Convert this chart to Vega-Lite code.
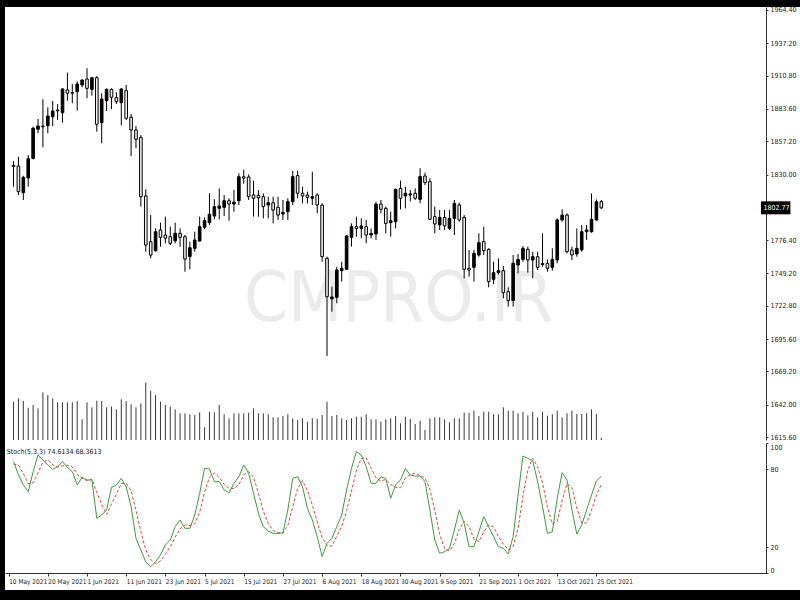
{
"$schema": "https://vega.github.io/schema/vega-lite/v6.json",
"width": 795, "height": 583,
"autosize": {"type": "none"},
"padding": {"left": 5, "top": 7, "right": 0, "bottom": 10},
"background": "#000000",
"config": {
  "view": {"fill": "#ffffff", "stroke": null},
  "font": "DejaVu Sans Condensed",
  "axis": {"grid": false, "labelFont": "DejaVu Sans Condensed", "labelFontSize": 7, "labelColor": "#1a1a1a", "domainColor": "#333333", "tickColor": "#333333", "tickSize": 3, "labelPadding": 2, "title": null}
},
"datasets": {
"bars": [
{"i":1,"date":"2021-05-11","open":1837.5,"high":1841,"low":1820,"close":1836.5,"volume":38300,"k":86,"d":84},
{"i":2,"date":"2021-05-12","open":1837,"high":1844.6,"low":1813.3,"close":1816,"volume":41700,"k":76,"d":83.3},
{"i":3,"date":"2021-05-13","open":1815.2,"high":1829,"low":1809.2,"close":1827.7,"volume":39000,"k":68,"d":76.7},
{"i":4,"date":"2021-05-14","open":1827.2,"high":1846,"low":1820.1,"close":1842.9,"volume":32300,"k":62.8,"d":68.9},
{"i":5,"date":"2021-05-17","open":1843.2,"high":1869.1,"low":1842.4,"close":1867.8,"volume":35000,"k":78,"d":69.6},
{"i":6,"date":"2021-05-18","open":1867,"high":1875.4,"low":1863.7,"close":1869.6,"volume":31700,"k":91,"d":77.3},
{"i":7,"date":"2021-05-19","open":1869.6,"high":1891.5,"low":1852.2,"close":1869,"volume":47700,"k":87.2,"d":85.4},
{"i":8,"date":"2021-05-20","open":1869.9,"high":1884.9,"low":1863.7,"close":1877.8,"volume":45000,"k":83.3,"d":87.2},
{"i":9,"date":"2021-05-21","open":1877.2,"high":1890.1,"low":1869.6,"close":1881.9,"volume":41700,"k":80,"d":83.5},
{"i":10,"date":"2021-05-24","open":1882,"high":1887.6,"low":1874.6,"close":1882.7,"volume":37700,"k":82,"d":81.8},
{"i":11,"date":"2021-05-25","open":1880.5,"high":1900.4,"low":1872.4,"close":1899.9,"volume":37700,"k":85.9,"d":82.6},
{"i":12,"date":"2021-05-26","open":1899.1,"high":1913.2,"low":1890.3,"close":1896.4,"volume":37700,"k":81.5,"d":83.1},
{"i":13,"date":"2021-05-27","open":1896.4,"high":1904,"low":1888.2,"close":1897,"volume":37700,"k":78.2,"d":81.9},
{"i":14,"date":"2021-05-28","open":1897.7,"high":1906.2,"low":1882.2,"close":1904,"volume":39000,"k":67.9,"d":75.9},
{"i":15,"date":"2021-05-31","open":1903.1,"high":1907.8,"low":1901.2,"close":1907.2,"volume":20700,"k":73.8,"d":73.3},
{"i":16,"date":"2021-06-01","open":1908,"high":1916.8,"low":1892.3,"close":1900.4,"volume":37700,"k":71.8,"d":71.2},
{"i":17,"date":"2021-06-02","open":1899.6,"high":1909.4,"low":1894.4,"close":1909.1,"volume":32700,"k":71.8,"d":72.5},
{"i":18,"date":"2021-06-03","open":1909.1,"high":1910.5,"low":1865,"close":1871,"volume":39300,"k":42.3,"d":62},
{"i":19,"date":"2021-06-04","open":1872.4,"high":1896.4,"low":1855.5,"close":1891.7,"volume":39000,"k":44.8,"d":53},
{"i":20,"date":"2021-06-07","open":1890.3,"high":1900.4,"low":1881.9,"close":1899.6,"volume":32700,"k":48.7,"d":45.3},
{"i":21,"date":"2021-06-08","open":1899.6,"high":1900.4,"low":1883.5,"close":1893.1,"volume":33300,"k":66.1,"d":53.2},
{"i":22,"date":"2021-06-09","open":1892.8,"high":1897.2,"low":1887.6,"close":1889.5,"volume":30700,"k":67.9,"d":60.9},
{"i":23,"date":"2021-06-10","open":1888.7,"high":1900.4,"low":1870.2,"close":1899.9,"volume":40700,"k":73,"d":69},
{"i":24,"date":"2021-06-11","open":1898.5,"high":1903.1,"low":1874.6,"close":1876,"volume":39000,"k":66.6,"d":69.2},
{"i":25,"date":"2021-06-14","open":1876.8,"high":1879.5,"low":1845.1,"close":1866.4,"volume":35700,"k":51.3,"d":63.6},
{"i":26,"date":"2021-06-15","open":1866.4,"high":1869.6,"low":1851.4,"close":1858.8,"volume":32700,"k":26.9,"d":48.3},
{"i":27,"date":"2021-06-16","open":1860.4,"high":1862.3,"low":1803.7,"close":1811.9,"volume":36700,"k":17.9,"d":32},
{"i":28,"date":"2021-06-17","open":1812.5,"high":1818,"low":1767,"close":1772.4,"volume":57300,"k":8.9,"d":17.9},
{"i":29,"date":"2021-06-18","open":1775.1,"high":1796.9,"low":1761.6,"close":1764.2,"volume":49300,"k":5.1,"d":10.6},
{"i":30,"date":"2021-06-21","open":1767.8,"high":1786.1,"low":1767,"close":1783.3,"volume":45000,"k":8.9,"d":7.6},
{"i":31,"date":"2021-06-22","open":1784.7,"high":1790.7,"low":1771,"close":1778.7,"volume":38300,"k":14.1,"d":9.4},
{"i":32,"date":"2021-06-23","open":1780.6,"high":1795.6,"low":1773.8,"close":1778,"volume":35000,"k":21.8,"d":14.9},
{"i":33,"date":"2021-06-24","open":1779.2,"high":1787.4,"low":1772.4,"close":1773.8,"volume":33300,"k":25.6,"d":20.5},
{"i":34,"date":"2021-06-25","open":1775.9,"high":1790.7,"low":1773.8,"close":1782,"volume":30700,"k":35.9,"d":27.8},
{"i":35,"date":"2021-06-28","open":1782,"high":1786.1,"low":1771,"close":1778.7,"volume":26700,"k":41,"d":34.2},
{"i":36,"date":"2021-06-29","open":1779.2,"high":1780.6,"low":1750.6,"close":1761,"volume":26700,"k":34.6,"d":37.2},
{"i":37,"date":"2021-06-30","open":1762.9,"high":1775.1,"low":1752.6,"close":1770.2,"volume":25700,"k":34.6,"d":36.7},
{"i":38,"date":"2021-07-01","open":1769.7,"high":1783.3,"low":1767,"close":1776.5,"volume":25000,"k":44.8,"d":38},
{"i":39,"date":"2021-07-02","open":1775.7,"high":1795.6,"low":1775.1,"close":1787.4,"volume":27700,"k":61.5,"d":47},
{"i":40,"date":"2021-07-05","open":1786.9,"high":1795.1,"low":1785.3,"close":1792.3,"volume":12700,"k":80.7,"d":62.3},
{"i":41,"date":"2021-07-06","open":1790.7,"high":1814.7,"low":1788.8,"close":1797.5,"volume":28300,"k":80.2,"d":74.1},
{"i":42,"date":"2021-07-07","open":1796.1,"high":1809.8,"low":1793.4,"close":1803.7,"volume":27700,"k":70.5,"d":77.1},
{"i":43,"date":"2021-07-08","open":1802.4,"high":1818.7,"low":1793.4,"close":1804.3,"volume":35000,"k":70.5,"d":73.7},
{"i":44,"date":"2021-07-09","open":1803.2,"high":1813.3,"low":1796.1,"close":1808.6,"volume":25700,"k":64.1,"d":68.4},
{"i":45,"date":"2021-07-12","open":1808.6,"high":1810.6,"low":1792.3,"close":1805.9,"volume":21700,"k":62,"d":65.5},
{"i":46,"date":"2021-07-13","open":1805.9,"high":1817.4,"low":1799.6,"close":1807.5,"volume":26700,"k":69.2,"d":65.1},
{"i":47,"date":"2021-07-14","open":1808.6,"high":1831,"low":1805,"close":1828.2,"volume":26700,"k":74.3,"d":68.5},
{"i":48,"date":"2021-07-15","open":1828.2,"high":1834,"low":1822.5,"close":1827,"volume":26700,"k":83.3,"d":75.6},
{"i":49,"date":"2021-07-16","open":1828,"high":1830,"low":1809.2,"close":1811.9,"volume":27300,"k":76.9,"d":78.2},
{"i":50,"date":"2021-07-19","open":1813.3,"high":1825,"low":1795.6,"close":1810.6,"volume":31700,"k":61.5,"d":73.9},
{"i":51,"date":"2021-07-20","open":1813,"high":1817.4,"low":1795.6,"close":1811,"volume":26700,"k":46.1,"d":61.5},
{"i":52,"date":"2021-07-21","open":1811.9,"high":1814.6,"low":1794.2,"close":1803.8,"volume":26700,"k":35.9,"d":47.8},
{"i":53,"date":"2021-07-22","open":1805.1,"high":1811.9,"low":1794.2,"close":1807,"volume":25700,"k":32.5,"d":38.2},
{"i":54,"date":"2021-07-23","open":1807,"high":1811.9,"low":1790.1,"close":1801,"volume":22700,"k":30.7,"d":33},
{"i":55,"date":"2021-07-26","open":1803.2,"high":1811.9,"low":1792.9,"close":1796.9,"volume":22700,"k":30.7,"d":31.3},
{"i":56,"date":"2021-07-27","open":1797.8,"high":1809.2,"low":1792.9,"close":1799.1,"volume":24000,"k":31.2,"d":30.9},
{"i":57,"date":"2021-07-28","open":1799.7,"high":1810.6,"low":1792.9,"close":1807.8,"volume":25700,"k":48.7,"d":36.9},
{"i":58,"date":"2021-07-29","open":1807.8,"high":1832.9,"low":1805,"close":1828.3,"volume":21700,"k":73,"d":51},
{"i":59,"date":"2021-07-30","open":1829.1,"high":1833.2,"low":1810.6,"close":1814.7,"volume":20000,"k":74.3,"d":65.3},
{"i":60,"date":"2021-08-02","open":1814.7,"high":1820.1,"low":1806.5,"close":1812.5,"volume":21700,"k":66.6,"d":71.3},
{"i":61,"date":"2021-08-03","open":1813.3,"high":1816,"low":1806.5,"close":1811.4,"volume":18300,"k":50,"d":63.6},
{"i":62,"date":"2021-08-04","open":1810.6,"high":1832.3,"low":1805.1,"close":1811.9,"volume":21700,"k":41,"d":52.5},
{"i":63,"date":"2021-08-05","open":1813.3,"high":1814.7,"low":1798.3,"close":1805.1,"volume":21000,"k":28.2,"d":39.7},
{"i":64,"date":"2021-08-06","open":1805.1,"high":1806.5,"low":1758.8,"close":1762.9,"volume":25000,"k":12.8,"d":27.3},
{"i":65,"date":"2021-08-09","open":1761.5,"high":1762.9,"low":1681.8,"close":1730.2,"volume":38300,"k":23,"d":21.3},
{"i":66,"date":"2021-08-10","open":1728.5,"high":1738.4,"low":1718,"close":1730,"volume":24000,"k":26.9,"d":20.9},
{"i":67,"date":"2021-08-11","open":1729.7,"high":1754.7,"low":1724.8,"close":1752,"volume":25000,"k":35.9,"d":28.6},
{"i":68,"date":"2021-08-12","open":1751.5,"high":1758.8,"low":1742.5,"close":1753.4,"volume":21700,"k":44.8,"d":35.9},
{"i":69,"date":"2021-08-13","open":1752.6,"high":1780.6,"low":1752,"close":1779.8,"volume":20000,"k":64.1,"d":48.3},
{"i":70,"date":"2021-08-16","open":1778.7,"high":1790.1,"low":1771.1,"close":1787.4,"volume":21700,"k":80.7,"d":63.2},
{"i":71,"date":"2021-08-17","open":1787.4,"high":1795.6,"low":1779.2,"close":1786,"volume":23300,"k":93.6,"d":79.5},
{"i":72,"date":"2021-08-18","open":1786,"high":1794.2,"low":1777.9,"close":1788,"volume":23300,"k":91,"d":88.4},
{"i":73,"date":"2021-08-19","open":1787.4,"high":1792.9,"low":1773.8,"close":1780.6,"volume":25700,"k":82,"d":88.9},
{"i":74,"date":"2021-08-20","open":1780.6,"high":1786,"low":1777.9,"close":1781.9,"volume":20700,"k":69.2,"d":80.7},
{"i":75,"date":"2021-08-23","open":1781.4,"high":1807.8,"low":1776.5,"close":1805.9,"volume":20700,"k":69.2,"d":73.5},
{"i":76,"date":"2021-08-24","open":1805.9,"high":1809.2,"low":1798.3,"close":1801.6,"volume":18300,"k":74.3,"d":70.9},
{"i":77,"date":"2021-08-25","open":1802.4,"high":1803.8,"low":1782,"close":1790.1,"volume":20700,"k":73,"d":72.2},
{"i":78,"date":"2021-08-26","open":1790.7,"high":1799.7,"low":1779.2,"close":1792.3,"volume":21700,"k":57.7,"d":68.3},
{"i":79,"date":"2021-08-27","open":1791.5,"high":1818.7,"low":1786,"close":1817.9,"volume":24000,"k":68,"d":66.2},
{"i":80,"date":"2021-08-30","open":1818.7,"high":1825,"low":1801.6,"close":1810.6,"volume":16700,"k":71.8,"d":65.8},
{"i":81,"date":"2021-08-31","open":1812.5,"high":1820,"low":1802.4,"close":1814.7,"volume":23300,"k":80.7,"d":73.5},
{"i":82,"date":"2021-09-01","open":1813.3,"high":1817.4,"low":1808.2,"close":1814.2,"volume":21000,"k":75.6,"d":76},
{"i":83,"date":"2021-09-02","open":1814.7,"high":1818.7,"low":1809.2,"close":1810.6,"volume":16000,"k":74.8,"d":77},
{"i":84,"date":"2021-09-03","open":1809.7,"high":1835.1,"low":1806.5,"close":1828.3,"volume":19300,"k":74.8,"d":75.1},
{"i":85,"date":"2021-09-06","open":1828.8,"high":1831.5,"low":1821.4,"close":1823.4,"volume":10000,"k":70.5,"d":73.4},
{"i":86,"date":"2021-09-07","open":1824.2,"high":1826.9,"low":1792.9,"close":1793.4,"volume":21700,"k":48.7,"d":64.7},
{"i":87,"date":"2021-09-08","open":1795.6,"high":1803.8,"low":1782,"close":1789.6,"volume":22700,"k":25.6,"d":48.3},
{"i":88,"date":"2021-09-09","open":1788.8,"high":1801.1,"low":1784.7,"close":1795,"volume":22700,"k":15.4,"d":29.9},
{"i":89,"date":"2021-09-10","open":1795,"high":1801.1,"low":1784.7,"close":1788,"volume":20700,"k":16.6,"d":19.2},
{"i":90,"date":"2021-09-13","open":1786,"high":1801.1,"low":1784.7,"close":1794.2,"volume":17700,"k":19.2,"d":17.1},
{"i":91,"date":"2021-09-14","open":1794.2,"high":1809.2,"low":1780.6,"close":1806.5,"volume":21700,"k":33.3,"d":23},
{"i":92,"date":"2021-09-15","open":1805.1,"high":1807,"low":1791.5,"close":1792.9,"volume":21700,"k":48.7,"d":33.7},
{"i":93,"date":"2021-09-16","open":1795,"high":1796.9,"low":1745.2,"close":1752.6,"volume":27300,"k":38.4,"d":40.1},
{"i":94,"date":"2021-09-17","open":1753.4,"high":1768.4,"low":1746.6,"close":1752,"volume":27300,"k":20.5,"d":35.9},
{"i":95,"date":"2021-09-20","open":1754.2,"high":1768.4,"low":1742.5,"close":1765.6,"volume":29300,"k":20.5,"d":26.5},
{"i":96,"date":"2021-09-21","open":1764.3,"high":1782,"low":1762.9,"close":1774.3,"volume":24000,"k":32,"d":24.3},
{"i":97,"date":"2021-09-22","open":1775.2,"high":1787.4,"low":1764.3,"close":1767.8,"volume":28300,"k":43.6,"d":32},
{"i":98,"date":"2021-09-23","open":1768.9,"high":1769.7,"low":1737.9,"close":1742.5,"volume":28300,"k":35.9,"d":37.2},
{"i":99,"date":"2021-09-24","open":1744.4,"high":1758.8,"low":1740.5,"close":1749.8,"volume":25700,"k":28.2,"d":35.9},
{"i":100,"date":"2021-09-27","open":1750,"high":1761.5,"low":1748.2,"close":1751.5,"volume":25700,"k":20.5,"d":28.2},
{"i":101,"date":"2021-09-28","open":1751.5,"high":1755.3,"low":1728.9,"close":1733.5,"volume":32700,"k":19.2,"d":22.6},
{"i":102,"date":"2021-09-29","open":1734.3,"high":1737.9,"low":1722.1,"close":1727,"volume":29300,"k":14.8,"d":18.2},
{"i":103,"date":"2021-09-30","open":1727,"high":1764.3,"low":1722.1,"close":1757.5,"volume":29300,"k":28.2,"d":20.7},
{"i":104,"date":"2021-10-01","open":1756.1,"high":1765.1,"low":1749.3,"close":1760.7,"volume":26700,"k":60.2,"d":34.4},
{"i":105,"date":"2021-10-04","open":1760.7,"high":1771.6,"low":1758.8,"close":1769.7,"volume":28300,"k":90.2,"d":59.5},
{"i":106,"date":"2021-10-05","open":1768.9,"high":1771.1,"low":1749.8,"close":1760.2,"volume":24700,"k":88.4,"d":79.6},
{"i":107,"date":"2021-10-06","open":1760.2,"high":1767,"low":1745.2,"close":1762.9,"volume":28300,"k":86.6,"d":88.4},
{"i":108,"date":"2021-10-07","open":1762.9,"high":1767,"low":1752,"close":1754.2,"volume":22700,"k":70.5,"d":81.8},
{"i":109,"date":"2021-10-08","open":1756.5,"high":1782,"low":1754.7,"close":1757.2,"volume":28300,"k":51.3,"d":69.5},
{"i":110,"date":"2021-10-11","open":1757.5,"high":1760.7,"low":1750.6,"close":1753.4,"volume":24300,"k":30.7,"d":50.8},
{"i":111,"date":"2021-10-12","open":1754.2,"high":1769.7,"low":1751.5,"close":1760.7,"volume":25700,"k":32,"d":38},
{"i":112,"date":"2021-10-13","open":1760.2,"high":1794.2,"low":1757.5,"close":1792.9,"volume":29300,"k":57.7,"d":40.1},
{"i":113,"date":"2021-10-14","open":1792.9,"high":1801.6,"low":1791.5,"close":1796.9,"volume":22700,"k":77.4,"d":55.7},
{"i":114,"date":"2021-10-15","open":1796.9,"high":1798.3,"low":1765.6,"close":1767,"volume":26700,"k":71.8,"d":69},
{"i":115,"date":"2021-10-18","open":1768.4,"high":1771.1,"low":1760.2,"close":1764.3,"volume":29300,"k":48.7,"d":66},
{"i":116,"date":"2021-10-19","open":1765.1,"high":1786,"low":1762.9,"close":1769.7,"volume":26000,"k":30.2,"d":50.2},
{"i":117,"date":"2021-10-20","open":1768.4,"high":1788.8,"low":1767,"close":1783.3,"volume":26000,"k":37.2,"d":38.7},
{"i":118,"date":"2021-10-21","open":1783.3,"high":1788.8,"low":1776.5,"close":1784.7,"volume":26700,"k":48.7,"d":38.7},
{"i":119,"date":"2021-10-22","open":1783.3,"high":1814.6,"low":1782.5,"close":1793.4,"volume":30700,"k":60.2,"d":48.7},
{"i":120,"date":"2021-10-25","open":1792.9,"high":1809.7,"low":1792.4,"close":1807.8,"volume":26000,"k":71,"d":60},
{"i":121,"date":"2021-10-26","open":1807.8,"high":1809.2,"low":1801.9,"close":1802.77,"volume":2300,"k":74.6134,"d":68.3613}
]
},
"data": {"name": "bars"},
"encoding": {
  "x": {"field": "i", "type": "quantitative",
    "scale": {"domain": [0.28, 153.6], "range": [0, 761], "nice": false, "zero": false},
    "axis": {"orient": "bottom", "offset": -17, "values": [0,8,16,24,32,40,48,56,64,72,80,88,96,104,112,120],
      "labelExpr": "['10 May 2021','20 May 2021','1 Jun 2021','11 Jun 2021','23 Jun 2021','5 Jul 2021','15 Jul 2021','27 Jul 2021','6 Aug 2021','18 Aug 2021','30 Aug 2021','9 Sep 2021','21 Sep 2021','1 Oct 2021','13 Oct 2021','25 Oct 2021'][round(datum.value/8)]",
      "labelAlign": "left", "labelAngle": 0, "labelFlush": false, "labelBound": false, "labelOverlap": false, "labelPadding": 2, "labelFontSize": 6.5, "tickSize": 3, "title": null}}
},
"layer": [
  {
    "layer": [
      {
        "transform": [{"filter": "datum.i == 80"}],
        "mark": {"type": "text", "text": "CMPRO.IR", "fontSize": 70, "color": "#ebebeb", "align": "center", "baseline": "alphabetic", "font": "DejaVu Sans Condensed"},
        "encoding": {
          "x": {"datum": 79.6, "type": "quantitative"},
          "y": {"datum": 1710.5, "type": "quantitative", "scale": {"domain": [1613.15, 1966.85], "range": [433, 0], "nice": false, "zero": false}}
        }
      },
      {
        "mark": {"type": "rule", "color": "#000000", "strokeWidth": 1},
        "encoding": {
          "y": {"field": "low", "type": "quantitative", "scale": {"domain": [1613.15, 1966.85], "range": [433, 0], "nice": false, "zero": false},
            "axis": {"orient": "right", "offset": -34, "values": [1615.6,1642,1669.2,1695.6,1722.8,1749.2,1776.4,1830,1857.2,1883.6,1910.8,1937.2,1964.4], "format": ".2f", "tickSize": 2, "labelPadding": 2, "title": null, "labelFlush": false}},
          "y2": {"field": "high"}
        }
      },
      {
        "mark": {"type": "bar", "size": 2.6, "stroke": "#000000", "strokeWidth": 1},
        "encoding": {
          "y": {"field": "open", "type": "quantitative", "scale": {"domain": [1613.15, 1966.85], "range": [433, 0], "nice": false, "zero": false}},
          "y2": {"field": "close"},
          "fill": {"condition": {"test": "datum.close >= datum.open", "value": "#000000"}, "value": "#f7eeee"}
        }
      },
      {
        "transform": [{"filter": "datum.i == 121"}],
        "mark": {"type": "rect", "fill": "#000000"},
        "encoding": {
          "x": {"datum": 153.6, "type": "quantitative"}, "x2": {"datum": 159.6},
          "y": {"datum": 1808.1, "type": "quantitative", "scale": {"domain": [1613.15, 1966.85], "range": [433, 0], "nice": false, "zero": false}},
          "y2": {"datum": 1797.5}
        }
      },
      {
        "transform": [{"filter": "datum.i == 121"}],
        "mark": {"type": "text", "color": "#ffffff", "fontSize": 7, "align": "left", "baseline": "middle", "font": "DejaVu Sans Condensed"},
        "encoding": {
          "x": {"datum": 154.1, "type": "quantitative"},
          "y": {"field": "close", "type": "quantitative", "scale": {"domain": [1613.15, 1966.85], "range": [433, 0], "nice": false, "zero": false}},
          "text": {"field": "close", "type": "quantitative", "format": ".2f"}
        }
      }
    ]
  },
  {
    "layer": [
      {
        "mark": {"type": "rule", "color": "#3a3a3a", "strokeWidth": 1},
        "encoding": {
          "y": {"field": "volume", "type": "quantitative", "scale": {"domain": [0, 60000], "range": [433, 373], "nice": false, "zero": false}, "axis": null},
          "y2": {"datum": 0}
        }
      },
      {
        "data": {"values": [{"b": 0}]},
        "mark": {"type": "rule", "color": "#333333", "strokeWidth": 1},
        "encoding": {
          "x": {"datum": 0.28}, "x2": {"datum": 153.6},
          "y": {"field": "b", "type": "quantitative", "scale": {"domain": [0, 60000], "range": [433, 373], "nice": false, "zero": false}, "axis": null}
        }
      }
    ]
  },
  {
    "layer": [
      {
        "data": {"values": [{"lvl": 80}, {"lvl": 20}]},
        "mark": {"type": "rule", "color": "#a8a8a8", "strokeWidth": 1, "strokeDash": [2, 2]},
        "encoding": {
          "x": {"datum": 0.28}, "x2": {"datum": 153.6},
          "y": {"field": "lvl", "type": "quantitative", "scale": {"domain": [0, 100], "range": [566.3, 436.3], "nice": false, "zero": false},
            "axis": {"orient": "right", "offset": -34, "values": [0, 20, 80, 100], "format": "d", "labelFlush": true, "tickSize": 2, "labelPadding": 2, "title": null}}
        }
      },
      {
        "data": {"values": [{"top": 101}]},
        "mark": {"type": "rule", "color": "#333333", "strokeWidth": 1},
        "encoding": {
          "x": {"datum": 0.28}, "x2": {"datum": 153.6},
          "y": {"field": "top", "type": "quantitative", "scale": {"domain": [0, 100], "range": [566.3, 436.3], "nice": false, "zero": false}}
        }
      },
      {
        "mark": {"type": "line", "color": "#e8453c", "strokeWidth": 1, "strokeDash": [3, 2]},
        "encoding": {
          "y": {"field": "d", "type": "quantitative", "scale": {"domain": [0, 100], "range": [566.3, 436.3], "nice": false, "zero": false}}
        }
      },
      {
        "mark": {"type": "line", "color": "#3f9b3f", "strokeWidth": 1},
        "encoding": {
          "y": {"field": "k", "type": "quantitative", "scale": {"domain": [0, 100], "range": [566.3, 436.3], "nice": false, "zero": false}}
        }
      },
      {
        "transform": [{"filter": "datum.i == 121"}],
        "mark": {"type": "text", "text": "Stoch(5,3,3) 74.6134 68.3613", "fontSize": 7, "color": "#1a1a1a", "align": "left", "baseline": "middle", "font": "DejaVu Sans Condensed"},
        "encoding": {
          "x": {"datum": -0.4, "type": "quantitative"},
          "y": {"datum": 93.3, "type": "quantitative", "scale": {"domain": [0, 100], "range": [566.3, 436.3], "nice": false, "zero": false}}
        }
      }
    ]
  }
],
"resolve": {"scale": {"y": "independent"}}
}
